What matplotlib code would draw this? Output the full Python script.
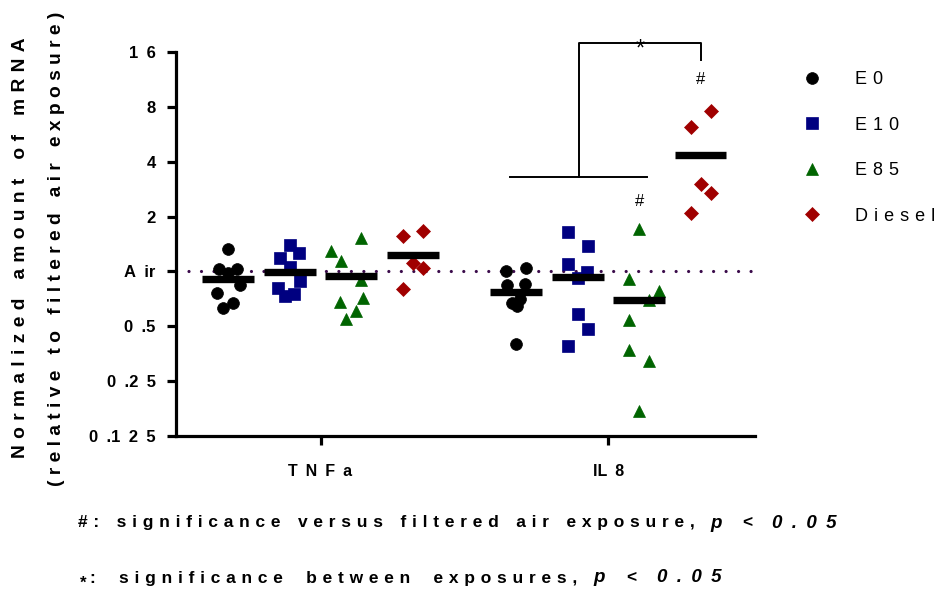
import matplotlib
matplotlib.use("Agg")
import matplotlib.pyplot as plt
import numpy as np
from matplotlib.ticker import NullLocator

plt.rcParams['font.family'] = ['Liberation Sans', 'DejaVu Sans']

EN = "\u2002"   # en space
TPE = "\u2004"  # three-per-em space


def spaced(s, sep=" ", wsep=None):
    if wsep is None:
        wsep = sep * 2
    return wsep.join(sep.join(list(w)) for w in s.split(" "))


# ---------------- data ----------------
genes = ["TNFa", "IL8"]
gene_labels = [spaced("TNFa", EN), "IL" + EN + "8"]
series = ["E0", "E10", "E85", "Diesel"]
series_labels = [spaced(s, TPE) for s in series]
colors = ["#000000", "#000080", "#006400", "#a00000"]
markers = ["o", "s", "^", "D"]
msizes = [8.5, 8.5, 9.0, 7.6]

values = {
    ("TNFa", "E0"): [1.332, 1.025, 1.035, 0.984, 0.838, 0.764, 0.667, 0.629],
    ("TNFa", "E10"): [1.389, 1.255, 1.189, 1.052, 0.885, 0.814, 0.748, 0.732],
    ("TNFa", "E85"): [1.523, 1.299, 1.145, 0.90, 0.714, 0.679, 0.609, 0.550],
    ("TNFa", "Diesel"): [1.672, 1.556, 1.11, 1.042, 0.804],
    ("IL8", "E0"): [1.004, 1.038, 0.838, 0.856, 0.702, 0.667, 0.645, 0.401],
    ("IL8", "E10"): [1.651, 1.376, 1.092, 0.991, 0.924, 0.581, 0.485, 0.389],
    ("IL8", "E85"): [1.70, 0.904, 0.78, 0.694, 0.539, 0.369, 0.322, 0.171],
    ("IL8", "Diesel"): [7.57, 6.21, 3.03, 2.70, 2.10],
}
# horizontal scatter of points within a column (px-like units)
jitter = {
    ("TNFa", "E0"): [0, -9, 9, 0, 11.7, -11.6, 5, -5.6],
    ("TNFa", "E10"): [0, 9, -10, 0, 10, -12, 4, -5],
    ("TNFa", "E85"): [10, -20.6, -10.6, 10, 11.7, -11.6, 5, -5],
    ("TNFa", "Diesel"): [10, -10, 0, 10, -10],
    ("IL8", "E0"): [-10.6, 9.7, -9, 8.7, 3.7, -4.6, 0.4, 0],
    ("IL8", "E10"): [-10, 10, -9.4, 9, 0, 0, 10, -10],
    ("IL8", "E85"): [0, -10.3, 20, 10, -10.3, -10.3, 10, 0],
    ("IL8", "Diesel"): [10.3, -10, 0, 10.3, -10],
}
means = {
    "TNFa": [0.904, 0.99, 0.939, 1.224],
    "IL8": [0.770, 0.935, 0.694, 4.33],
}
yticks = [0.125, 0.25, 0.5, 1, 2, 4, 8, 16]
yticklabels = ["0 .1 2 5", "0 .2 5", "0 .5", "A ir", "2", "4", "8", "1 6"]
air_level = 1.0

# ---------------- layout ----------------
W, H = 941, 589
fig = plt.figure(figsize=(W / 100, H / 100), dpi=100)
ax = fig.add_axes([176 / W, 1 - 436 / H, (755 - 176) / W, (436 - 52) / H])
ax.set_yscale('log', base=2)
ax.set_ylim(0.125, 16)
ax.set_xlim(-0.502, 1.509)

offsets = [-0.32, -0.107, 0.107, 0.32]
JIT = 1 / 288.0
half_bar = 0.09

ax.axhline(air_level, color="#3a0a4a", lw=2.3, linestyle=(0, (0.01, 3.9)),
           dash_capstyle='round', zorder=1)

handles = []
for gi, g in enumerate(genes):
    for si, s in enumerate(series):
        xc = gi + offsets[si]
        v = values[(g, s)]
        xs = xc + np.array(jitter[(g, s)]) * JIT
        h, = ax.plot(xs, v, linestyle='none', marker=markers[si], ms=msizes[si],
                     color=colors[si], mec=colors[si], mew=0.5, zorder=3,
                     clip_on=False)
        if gi == 0:
            handles.append(h)
        m = means[g][si]
        ax.plot([xc - half_bar, xc + half_bar], [m, m], color='black', lw=5.3,
                solid_capstyle='butt', zorder=4)

# spines / ticks
for sp in ['top', 'right']:
    ax.spines[sp].set_visible(False)
for sp in ['left', 'bottom']:
    ax.spines[sp].set_linewidth(2.3)
ax.set_yticks(yticks)
ax.set_yticklabels([t.replace(" ", EN) for t in yticklabels])
ax.yaxis.set_minor_locator(NullLocator())
ax.set_xticks([0, 1])
ax.set_xticklabels(gene_labels)
ax.tick_params(axis='y', length=6.5, width=2.3, pad=8, labelsize=12)
ax.tick_params(axis='x', length=6.5, width=2.3, pad=14, labelsize=11.5)
for lab in ax.get_yticklabels() + ax.get_xticklabels():
    lab.set_fontweight('bold')

# significance annotations
lw_b = 1.4
ax.plot([0.658, 1.134], [3.28, 3.28], color='black', lw=lw_b, clip_on=False)
ax.plot([0.898, 0.898, 1.321, 1.321], [3.28, 17.95, 17.95, 14.5], color='black',
        lw=lw_b, clip_on=False)
ax.text(1.109, 16.5, "*", ha='center', va='center', fontsize=17, clip_on=False)
ax.text(1.321, 11.3, "#", ha='center', va='center', fontsize=12)
ax.text(1.107, 2.42, "#", ha='center', va='center', fontsize=12)

# y label (two lines)
fig.text(21 / W, 1 - 248 / H, spaced("Normalized amount of mRNA", TPE, TPE * 3),
         rotation=90, ha='center', va='center', fontsize=13.8, fontweight='bold')
fig.text(57 / W, 1 - 249 / H,
         spaced("(relative to filtered air exposure)", " ", "   "),
         rotation=90, ha='center', va='center', fontsize=13.8, fontweight='bold')

# legend
ax.legend(handles, series_labels, loc='upper left', bbox_to_anchor=(803 / W, 1 - 71 / H),
          bbox_transform=fig.transFigure, frameon=False, fontsize=13,
          handlelength=1.0, handletextpad=1.9, labelspacing=1.58, borderpad=0,
          borderaxespad=0, numpoints=1)

# footnotes
renderer = fig.canvas.get_renderer()


def pieces(x_px, y_px, parts, fs=12.5):
    x = x_px
    for txt, style, dy, size, gap in parts:
        t = fig.text(x / W, 1 - (y_px + dy) / H, txt, fontsize=size or fs,
                     fontweight='bold', fontstyle=style, ha='left', va='center')
        bb = t.get_window_extent(renderer)
        x += bb.width + gap


WS = EN + EN
pieces(78, 523, [(spaced("#: significance versus filtered air exposure,", TPE, WS), 'normal', 0, None, 16),
                 ("p", 'italic', 0, 13.5, 20), ("<", 'normal', 0, None, 20),
                 (spaced("0.05", EN), 'italic', 0, 13.5, 0)])
pieces(80, 578, [("*", 'normal', 5, 12, 3),
                 (spaced(": significance between exposures,", TPE, WS + TPE), 'normal', 0, None, 17),
                 ("p", 'italic', 0, 13.5, 21), ("<", 'normal', 0, None, 21),
                 (spaced("0.05", EN), 'italic', 0, 13.5, 0)])

fig.savefig("out.png", dpi=100)
